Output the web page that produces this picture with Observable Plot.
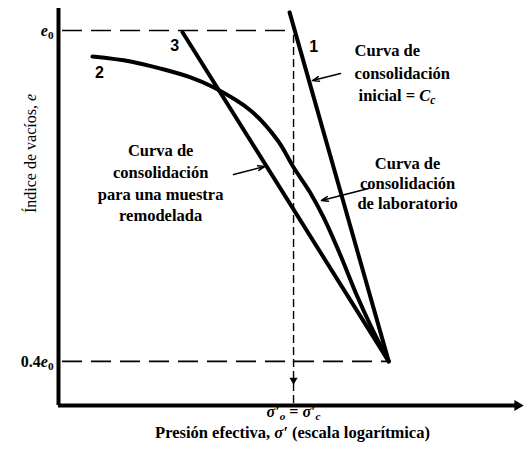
<!DOCTYPE html>
<html>
<head>
<meta charset="utf-8">
<script src="https://cdn.jsdelivr.net/npm/d3@7"></script>
<script src="https://cdn.jsdelivr.net/npm/@observablehq/plot@0.6"></script>
<style>
  html, body { margin: 0; padding: 0; background: #fff; }
  #chart { width: 524px; height: 456px; }
</style>
</head>
<body>
<div id="chart"></div>
<script>
// ---- data (σ' in arbitrary pressure units on a log scale, e as fraction of e0) ----
const curve1Initial = [ {p: 96.2, e: 1.033}, {p: 254, e: 0.4} ];
const curve2Lab = [
  {p: 13.95, e: 0.953}, {p: 20.25, e: 0.944}, {p: 27.2, e: 0.931}, {p: 36.45, e: 0.915},
  {p: 45.65, e: 0.897}, {p: 65.6, e: 0.855}, {p: 85.5, e: 0.801}, {p: 100, e: 0.752},
  {p: 118.1, e: 0.705}, {p: 134.2, e: 0.661}, {p: 158.5, e: 0.592}, {p: 183.6, e: 0.525},
  {p: 212.7, e: 0.465}, {p: 254, e: 0.4}
];
const curve3Remolded = [ {p: 33.7, e: 0.997}, {p: 254, e: 0.4} ];

const refLevels = [ {e: 1.0, from: 10.4, to: 102}, {e: 0.4, from: 10.4, to: 254} ];
const sigmaC = [ {p: 100, top: 0.991, bottom: 0.32, head: 0.366} ];

const yTicks = [0.4, 1.0];
const yTickLabels = ["0.4e0", "e0"];
const xTicks = [100];
const xTickLabels = ["σ′o = σ′c"];
const xTitle = "Presión efectiva, σ′ (escala logarítmica)";
const yTitle = "Índice de vacíos, e";

const curveNumbers = [
  {p: 121.7, e: 0.971, label: "1"},
  {p: 14.95, e: 0.924, label: "2"},
  {p: 31.2, e: 0.973, label: "3"}
];
const noteInitial = [
  {p: 181.8, e: 0.9638, text: "Curva de"},
  {p: 181.8, e: 0.9221, text: "consolidación"},
  {p: 189.1, e: 0.8822, text: "inicial = Cc"}
];
const noteLab = [
  {p: 305.6, e: 0.7589, text: "Curva de"},
  {p: 305.6, e: 0.7226, text: "consolidación"},
  {p: 305.6, e: 0.6863, text: "de laboratorio"}
];
const noteRemolded = [
  {p: 27.2, e: 0.7825, text: "Curva de"},
  {p: 27.2, e: 0.7426, text: "consolidación"},
  {p: 27.2, e: 0.7027, text: "para una muestra"},
  {p: 27.2, e: 0.6646, text: "remodelada"}
];
const pointers = [
  {p1: 158.5, e1: 0.9221, p2: 120.4, e2: 0.9094},
  {p1: 208.5, e1: 0.7135, p2: 131.5, e2: 0.6918},
  {p1: 55.55, e1: 0.739, p2: 75.3, e2: 0.7534}
];
const axisExtent = { pMin: 10, pMax: 942, pArrow: 897, eMin: 0.32, eMax: 1.04 };

// rich text (italic / subscripts) applied after rendering
const rich = {
  "e0": [{t: "e", i: true}, {t: "0", sub: true}],
  "0.4e0": [{t: "0.4"}, {t: "e", i: true}, {t: "0", sub: true}],
  "σ′o = σ′c": [{t: "σ′", i: true}, {t: "o", i: true, sub: true}, {t: " = "}, {t: "σ′", i: true}, {t: "c", i: true, sub: true}],
  "Presión efectiva, σ′ (escala logarítmica)": [{t: "Presión efectiva, "}, {t: "σ′", i: true}, {t: " (escala logarítmica)"}],
  "Índice de vacíos, e": [{t: "Índice de vacíos, "}, {t: "e", i: true}],
  "inicial = Cc": [{t: "inicial = "}, {t: "C", i: true}, {t: "c", i: true, sub: true}]
};

const serif = "Liberation Serif";
const sans = "Liberation Sans";
const note = {fontFamily: serif, fontSize: 16.5, fontWeight: "bold", fill: "#000"};

const chart = Plot.plot({
  width: 524,
  height: 456,
  marginLeft: 58,
  marginRight: 2,
  marginTop: 8,
  marginBottom: 51,
  style: { fontFamily: serif, background: "#fff", color: "#000" },
  x: { type: "log", domain: [axisExtent.pMin, axisExtent.pMax], axis: null },
  y: { domain: [axisExtent.eMin, axisExtent.eMax], axis: null },
  marks: [
    // reference dashed lines
    Plot.ruleY(refLevels, {y: "e", x1: "from", x2: "to", stroke: "#000", strokeWidth: 1.6, strokeDasharray: "20,9"}),
    Plot.ruleX(sigmaC, {x: "p", y1: "top", y2: "bottom", stroke: "#000", strokeWidth: 1.4, strokeDasharray: "8,4"}),
    Plot.dot(sigmaC, {x: "p", y: "head", symbol: "triangle", rotate: 180, r: 3, fill: "#000", stroke: null}),
    // curves
    Plot.line(curve1Initial, {x: "p", y: "e", stroke: "#000", strokeWidth: 4}),
    Plot.line(curve3Remolded, {x: "p", y: "e", stroke: "#000", strokeWidth: 4}),
    Plot.line(curve2Lab, {x: "p", y: "e", stroke: "#000", strokeWidth: 4, curve: "catmull-rom"}),
    // axes lines
    Plot.ruleX([axisExtent.pMin], {y1: axisExtent.eMin, y2: axisExtent.eMax, stroke: "#000", strokeWidth: 4}),
    Plot.ruleY([axisExtent.eMin], {x1: axisExtent.pMin, x2: axisExtent.pArrow, stroke: "#000", strokeWidth: 4}),
    Plot.dot([axisExtent.pArrow], {x: d => d, y: axisExtent.eMin, symbol: "triangle", rotate: 90, r: 4, fill: "#000", stroke: null}),
    // ticks
    Plot.axisY(yTicks, {tickSize: 0, tickPadding: 5, tickFormat: d => yTickLabels[yTicks.indexOf(d)], label: null, fontSize: 16, fontWeight: "bold", fontFamily: serif}),
    Plot.text(xTicks, {x: d => d, text: (d, i) => xTickLabels[i], frameAnchor: "bottom", dy: 11, ...note, fontSize: 16}),
    // titles
    Plot.text([yTitle], {text: d => d, frameAnchor: "left", dx: -28, dy: 6, rotate: -90, fontSize: 16, fontFamily: serif}),
    Plot.text([xTitle], {text: d => d, frameAnchor: "bottom", dx: 2, dy: 32, ...note, fontSize: 16.5}),
    // pointers
    Plot.arrow(pointers, {x1: "p1", y1: "e1", x2: "p2", y2: "e2", stroke: "#000", strokeWidth: 1.5, headLength: 7, headAngle: 40}),
    // annotations
    Plot.text(curveNumbers, {x: "p", y: "e", text: "label", fontFamily: sans, fontSize: 16, fontWeight: "bold"}),
    Plot.text(noteInitial, {x: "p", y: "e", text: "text", textAnchor: "start", ...note}),
    Plot.text(noteLab, {x: "p", y: "e", text: "text", ...note}),
    Plot.text(noteRemolded, {x: "p", y: "e", text: "text", ...note})
  ]
});

// apply italics / subscripts
const NS = "http://www.w3.org/2000/svg";
chart.querySelectorAll("text").forEach(t => {
  const segs = rich[t.textContent];
  if (!segs) return;
  while (t.firstChild) t.removeChild(t.firstChild);
  let shift = 0;
  for (const s of segs) {
    const ts = document.createElementNS(NS, "tspan");
    ts.textContent = s.t;
    if (s.i) ts.setAttribute("font-style", "italic");
    const want = s.sub ? 3 : 0;
    if (want !== shift) { ts.setAttribute("dy", want - shift); shift = want; }
    if (s.sub) ts.setAttribute("font-size", "0.7em");
    t.appendChild(ts);
  }
});

document.getElementById("chart").appendChild(chart);
</script>
</body>
</html>
